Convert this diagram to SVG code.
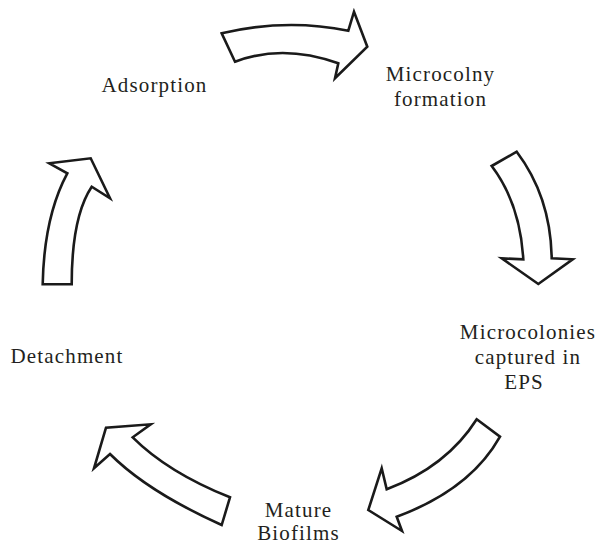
<svg xmlns="http://www.w3.org/2000/svg" width="599" height="545" viewBox="0 0 599 545">
<style>
.arrow{fill:#fff;stroke:#1a1a1a;stroke-width:2.6;stroke-linejoin:miter}
text{font-family:"Liberation Serif","Times New Roman",serif;font-size:21px;fill:#231f20;text-anchor:middle;letter-spacing:1.15px}
</style>
<rect width="599" height="545" fill="#fff"/>
<g id="connectors">
<path class="arrow" d="M221.7,33.3 Q286,18 348.3,30.7 L354,11.7 L367.3,46.7 L335,78.3 L338.3,63.3 Q283,43.5 235,61.7 Z"/>
<path class="arrow" d="M491.7,166 L516.7,151.7 Q550.7,196.7 551.7,258.3 L572.7,259.3 L538.3,284 L501.7,258.3 L523.3,259.3 Q520,203.3 491.7,166 Z"/>
<path class="arrow" d="M476.7,419.3 L500,436.7 Q470,490 396.7,516.7 L402,531 L368.3,510 L381.7,468.3 L386.7,489.3 Q446.7,466.7 476.7,419.3 Z"/>
<path class="arrow" d="M221.7,525 L230,497.3 Q167.8,472.4 132.7,437.3 L150.7,424.3 L106,427.7 L94,468.3 L110,454 Q147.7,491.7 221.7,525 Z"/>
<path class="arrow" d="M42.7,284.3 L71.7,284.3 Q71.7,216.7 91.7,186.7 L110,198.3 L90.7,158.3 L49.3,163.3 L67.3,173.3 Q44,216.7 42.7,284.3 Z"/>
</g>
<g id="adsorption"><text x="154.5" y="92">Adsorption</text></g>
<g id="microcolony-formation"><text x="440.5" y="81">Microcolny</text><text x="440.5" y="106">formation</text></g>
<g id="microcolonies-eps"><text x="528" y="339">Microcolonies</text><text x="528" y="364">captured in</text><text x="524" y="389">EPS</text></g>
<g id="mature-biofilms"><text x="298.5" y="517">Mature</text><text x="298.5" y="540">Biofilms</text></g>
<g id="detachment"><text x="67" y="363">Detachment</text></g>
</svg>
